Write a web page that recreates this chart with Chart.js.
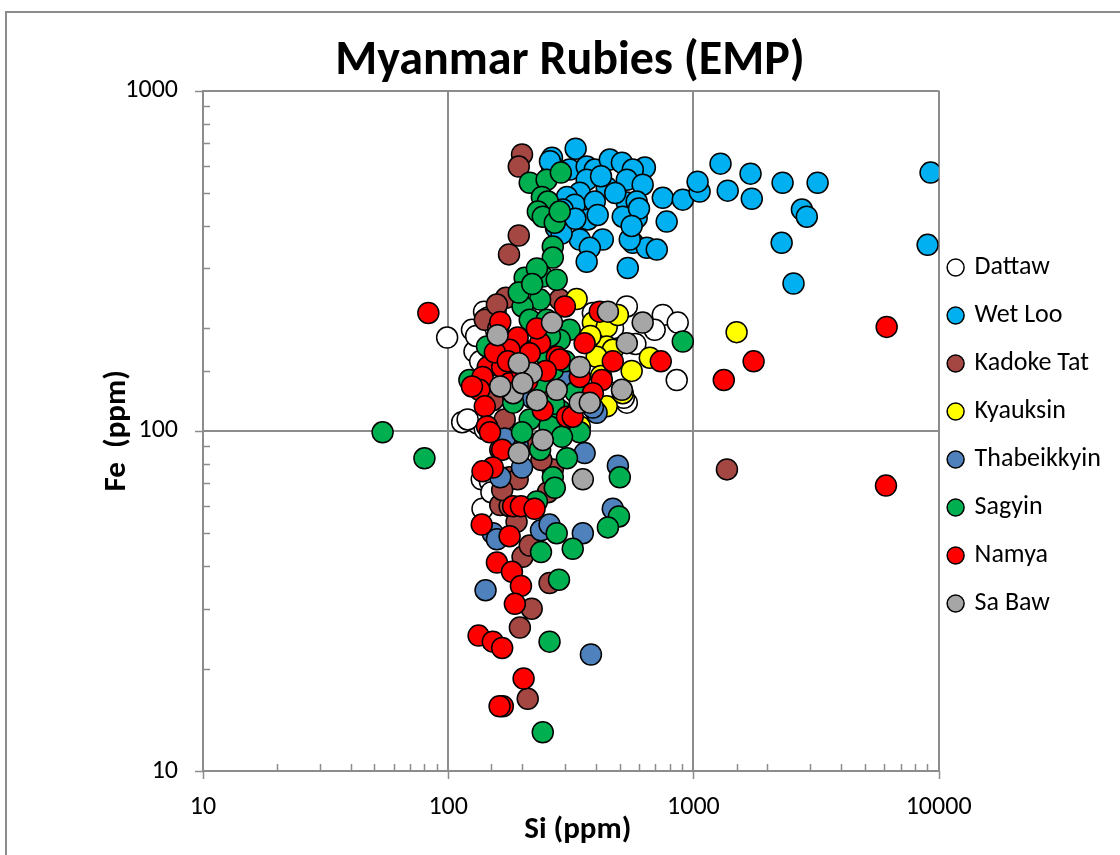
<!DOCTYPE html>
<html>
<head>
<meta charset="utf-8">
<title>Myanmar Rubies (EMP)</title>
<script src="https://cdn.jsdelivr.net/npm/chart.js@4/dist/chart.umd.min.js"></script>
<style>
  html, body { margin: 0; padding: 0; background: #fff; overflow: hidden; }
  #frame { position: absolute; left: 5px; top: 11px; width: 1200px; height: 900px; border: 2px solid #8c8c8c; }
  #wrap { position: absolute; left: 0; top: 0; width: 1120px; height: 855px; }
</style>
</head>
<body>
<div id="frame"></div>
<div id="wrap"><canvas id="ruby-chart" width="1120" height="855"></canvas></div>
<script>
// [Si, Fe] in ppm for each locality
const dattaw = [[99,188],[125,198],[128,171],[114,106],[132,105],[141,101],[137,72],[148,71],[138,59],[140,224],
    [156,224],[535,232],[750,219],[695,198],[863,208],[855,141],[535,121],[389,222],[450,130],[520,125],
    [580,180],[470,200],[130,190],[145,215],[120,108],[150,66],[135,160]];
const wetLoo = [[331,675],[265,635],[265,598],[313,586],[367,598],[396,586],[456,627],[511,614],[634,594],[566,586],
    [535,547],[367,547],[443,519],[621,529],[344,501],[305,487],[328,462],[396,472],[535,469],[587,472],
    [750,484],[905,478],[1060,505],[1040,540],[587,423],[515,426],[778,412],[371,418],[407,431],[285,409],
    [344,365],[427,365],[378,345],[367,314],[540,301],[566,357],[646,345],[709,341],[550,365],[293,447],
    [1290,610],[1380,508],[1710,570],[1730,481],[2310,536],[3210,536],[2770,447],[2900,426],[2290,357],[2560,271],
    [9270,574],[9020,352],[275,395],[290,380],[260,620],[420,560],[480,500],[600,450],[560,400],[330,420]];
const kadokeTat = [[200,649],[194,598],[194,375],[177,330],[1370,77],[178,73],[192,72],[163,60.5],[178,60],[190,54],
    [201,42.6],[259,35.7],[219,30],[196,26.4],[211,16.3],[255,66],[215,46],[166,67],[172,246],[141,212],
    [158,235],[152,123],[170,108],[163,88],[205,94],[267,77],[182,136],[237,173],[285,243],[240,82],
    [160,200],[190,150]];
const kyauksin = [[1500,195],[334,244],[389,208],[443,202],[492,219],[443,177],[469,173],[664,164],[344,103],[443,118],
    [515,129],[403,165],[420,145],[560,150],[380,190]];
const thabeikkyin = [[142,34],[382,22],[354,50],[492,79],[469,59],[360,86],[152,50],[158,48],[239,51],[163,73],
    [200,78],[403,113],[192,91],[259,53],[389,117],[220,125],[300,140],[170,95]];
const sagyin = [[54,99],[80,83],[905,183],[122,141],[215,536],[252,547],[288,574],[241,487],[255,472],[232,441],
    [243,426],[272,409],[285,441],[267,348],[267,323],[205,282],[243,284],[277,278],[237,243],[201,232],
    [194,255],[215,212],[252,212],[313,198],[285,185],[144,177],[178,181],[201,173],[252,165],[267,151],
    [184,135],[237,138],[285,115],[184,121],[215,108],[259,103],[344,99],[200,99],[291,96],[237,88],
    [305,83],[267,73],[272,68],[230,62],[277,50],[239,44],[322,45],[501,73],[497,56],[448,52],
    [283,36.5],[259,24],[243,13],[230,300],[220,270],[260,190],[300,160],[330,130],[270,120]];
const namya = [[83,222],[6140,202],[6100,69],[1760,160],[1330,141],[736,160],[299,232],[163,209],[192,188],[237,181],
    [215,169],[178,173],[145,154],[166,154],[138,144],[277,165],[360,181],[134,132],[141,118],[144,103],
    [243,115],[305,110],[285,162],[415,224],[469,160],[344,144],[423,141],[389,129],[322,110],[178,138],
    [125,135],[148,99],[166,88],[152,78],[138,76],[184,60],[198,60],[225,59],[137,53],[178,49],
    [158,41],[182,38.5],[198,35],[187,31],[133,25],[152,24],[166,23],[203,18.7],[167,15.5],[162,15.5],
    [155,170],[200,150],[175,160],[210,140],[250,150],[230,200]];
const saBaw = [[265,208],[159,191],[219,148],[194,158],[184,129],[230,123],[277,132],[344,154],[344,121],[243,94],
    [448,224],[621,208],[535,181],[511,132],[194,86],[354,72],[201,138],[378,121],[163,135]];

const seriesNames = ['Dattaw', 'Wet Loo', 'Kadoke Tat', 'Kyauksin', 'Thabeikkyin', 'Sagyin', 'Namya', 'Sa Baw'];
const seriesData = [dattaw, wetLoo, kadokeTat, kyauksin, thabeikkyin, sagyin, namya, saBaw];
const seriesColors = ['#FFFFFF', '#00B0F0', '#A44743', '#FFFF00', '#4F81BD', '#00B050', '#FF0000', '#A6A6A6'];

const FONT = 'Carlito, Calibri, Lato, sans-serif';
const GRID = '#8c8c8c';

function isDecade(v) {
    const l = Math.log10(v);
    return Math.abs(l - Math.round(l)) < 1e-6;
}

// small tick marks: decades point outward, in-between values point into the plot
const tickMarks = {
    id: 'tickMarks',
    beforeDatasetsDraw(chart) {
        const ctx = chart.ctx;
        const {x, y} = chart.scales;
        ctx.save();
        ctx.strokeStyle = GRID;
        ctx.lineWidth = 1.5;
        ctx.beginPath();
        x.ticks.forEach(t => {
            const px = Math.round(x.getPixelForValue(t.value)) + 0.5;
            const len = isDecade(t.value) ? 8 : -7;
            ctx.moveTo(px, y.bottom);
            ctx.lineTo(px, y.bottom + len);
        });
        y.ticks.forEach(t => {
            const py = Math.round(y.getPixelForValue(t.value)) + 0.5;
            const len = isDecade(t.value) ? -8 : 7;
            ctx.moveTo(x.left, py);
            ctx.lineTo(x.left + len, py);
        });
        ctx.stroke();
        ctx.restore();
    }
};

// pull the legend a little closer to the plot
const legendNudge = {
    id: 'legendNudge',
    afterLayout(chart) {
        chart.legend.left -= 11;
        chart.legend.right -= 11;
    }
};

document.addEventListener('DOMContentLoaded', function () {
    const datasets = seriesNames.map((name, i) => ({
        label: name,
        data: seriesData[i].map(p => ({x: p[0], y: p[1]})),
        backgroundColor: seriesColors[i],
        borderColor: '#000000',
        pointRadius: 10.5,
        pointHoverRadius: 10.5,
        pointBorderWidth: 1.5,
        // later series sit on top
        order: seriesNames.length - i
    }));

    new Chart(document.getElementById('ruby-chart'), {
        type: 'scatter',
        data: { datasets: datasets },
        options: {
            responsive: false,
            animation: false,
            layout: { padding: { left: 18, right: -2, top: 0, bottom: 0 } },
            scales: {
                x: {
                    type: 'logarithmic',
                    min: 10,
                    max: 10000,
                    afterFit: scale => { scale.height = 84; },
                    border: { color: GRID, width: 2 },
                    grid: {
                        drawTicks: false,
                        lineWidth: 2,
                        color: c => isDecade(c.tick.value) ? GRID : 'rgba(0,0,0,0)'
                    },
                    ticks: {
                        autoSkip: false,
                        maxRotation: 0,
                        padding: 21,
                        color: '#000',
                        font: { family: FONT, size: 26 },
                        callback: v => isDecade(v) ? String(v) : ''
                    },
                    title: {
                        display: true,
                        text: '  Si (ppm)',
                        color: '#000',
                        font: { family: FONT, size: 31, weight: 'bold' },
                        padding: { top: 0, bottom: 6 }
                    }
                },
                y: {
                    type: 'logarithmic',
                    min: 10,
                    max: 1000,
                    afterFit: scale => { scale.width = 185; },
                    border: { color: GRID, width: 2 },
                    grid: {
                        drawTicks: false,
                        lineWidth: 2,
                        color: c => isDecade(c.tick.value) ? GRID : 'rgba(0,0,0,0)'
                    },
                    ticks: {
                        autoSkip: false,
                        padding: 25,
                        color: '#000',
                        font: { family: FONT, size: 26 },
                        callback: v => isDecade(v) ? String(v) : ''
                    },
                    title: {
                        display: true,
                        text: 'Fe  (ppm)',
                        color: '#000',
                        font: { family: FONT, size: 31, weight: 'bold' },
                        padding: { top: 81, bottom: 0 }
                    }
                }
            },
            plugins: {
                title: {
                    display: true,
                    text: 'Myanmar Rubies (EMP)',
                    color: '#000',
                    font: { family: FONT, size: 48, weight: 'bold' },
                    padding: { top: 33, bottom: 0 }
                },
                legend: {
                    display: true,
                    position: 'right',
                    reverse: true,
                    title: {
                        display: true,
                        text: ' ',
                        font: { family: FONT, size: 10 },
                        padding: 2
                    },
                    labels: {
                        usePointStyle: true,
                        pointStyle: 'circle',
                        boxWidth: 12,
                        boxHeight: 12,
                        padding: 22,
                        color: '#000',
                        font: { family: FONT, size: 26 }
                    }
                },
                tooltip: { enabled: false }
            }
        },
        plugins: [tickMarks, legendNudge]
    });
});
</script>
</body>
</html>
